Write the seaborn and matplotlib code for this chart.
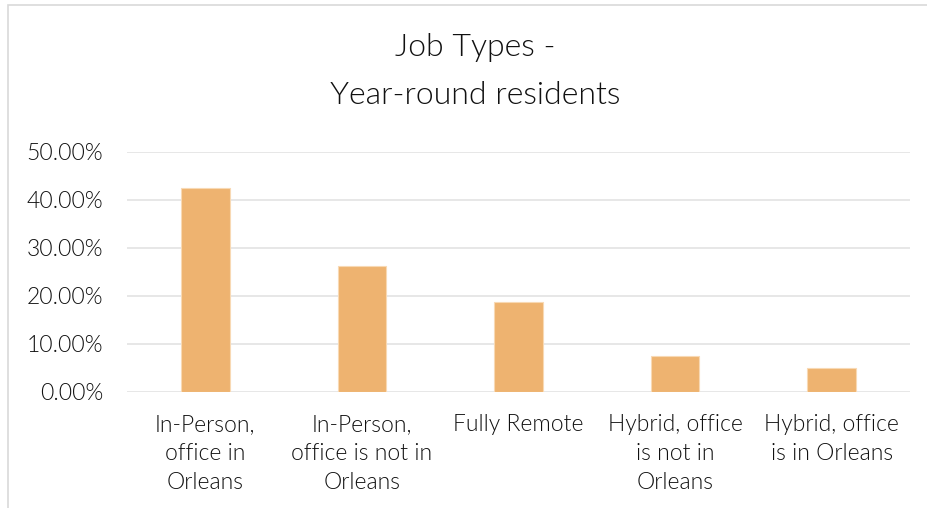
import matplotlib
matplotlib.use("Agg")
import matplotlib.pyplot as plt
import seaborn as sns
import pandas as pd
from matplotlib.patches import Rectangle
from matplotlib.ticker import FuncFormatter

categories = [
    "In-Person,\noffice in\nOrleans",
    "In-Person,\noffice is not in\nOrleans",
    "Fully Remote",
    "Hybrid, office\nis not in\nOrleans",
    "Hybrid, office\nis in Orleans",
]
shares = [42.5, 26.3, 18.8, 7.6, 5.0]
y_ticks = [0, 10, 20, 30, 40, 50]

df = pd.DataFrame({"category": categories, "share": shares})

sns.set_theme(style="white")
plt.rcParams["font.family"] = ["Lato", "DejaVu Sans"]

W, H = 928, 508
fig = plt.figure(figsize=(W / 100, H / 100), dpi=100)
ax = fig.add_axes([127 / W, 1 - 392 / H, (910 - 127) / W, (392 - 152) / H])

sns.barplot(data=df, x="category", y="share", color="#EEB370",
            width=0.31, saturation=1, ax=ax, zorder=3,
            edgecolor="#F8D9B4", linewidth=0.8)

ax.set_ylim(0, 50)
ax.set_xlim(-0.5, len(categories) - 0.5)
ax.set_yticks(y_ticks)
ax.yaxis.set_major_formatter(FuncFormatter(lambda v, p: f"{v:.2f}%"))
ax.grid(axis="y", color="#E3E3E3", linewidth=1.2, zorder=0)
ax.set_axisbelow(True)
for s in ax.spines.values():
    s.set_visible(False)
ax.set_xlabel("")
ax.set_ylabel("")
ax.tick_params(axis="both", length=0, labelsize=16.5, labelcolor="#111111")
ax.tick_params(axis="y", pad=17)
ax.tick_params(axis="x", pad=16)
for lab in ax.get_xticklabels() + ax.get_yticklabels():
    lab.set_fontweight(300)
    lab.set_linespacing(1.45)

fig.text(475 / W, 1 - 48 / H, "Job Types -", ha="center", va="center",
         fontsize=23, fontweight=300, color="#111111")
fig.text(475 / W, 1 - 95 / H, "Year-round residents", ha="center", va="center",
         fontsize=23, fontweight=300, color="#111111")

# chart frame
fig.patches.append(Rectangle((7.5 / W, -0.1), 1.2, (1 - 5.5 / H) + 0.1,
                             transform=fig.transFigure, fill=False,
                             edgecolor="#D9D9D9", linewidth=1.2))

fig.savefig("out.png", dpi=100)
